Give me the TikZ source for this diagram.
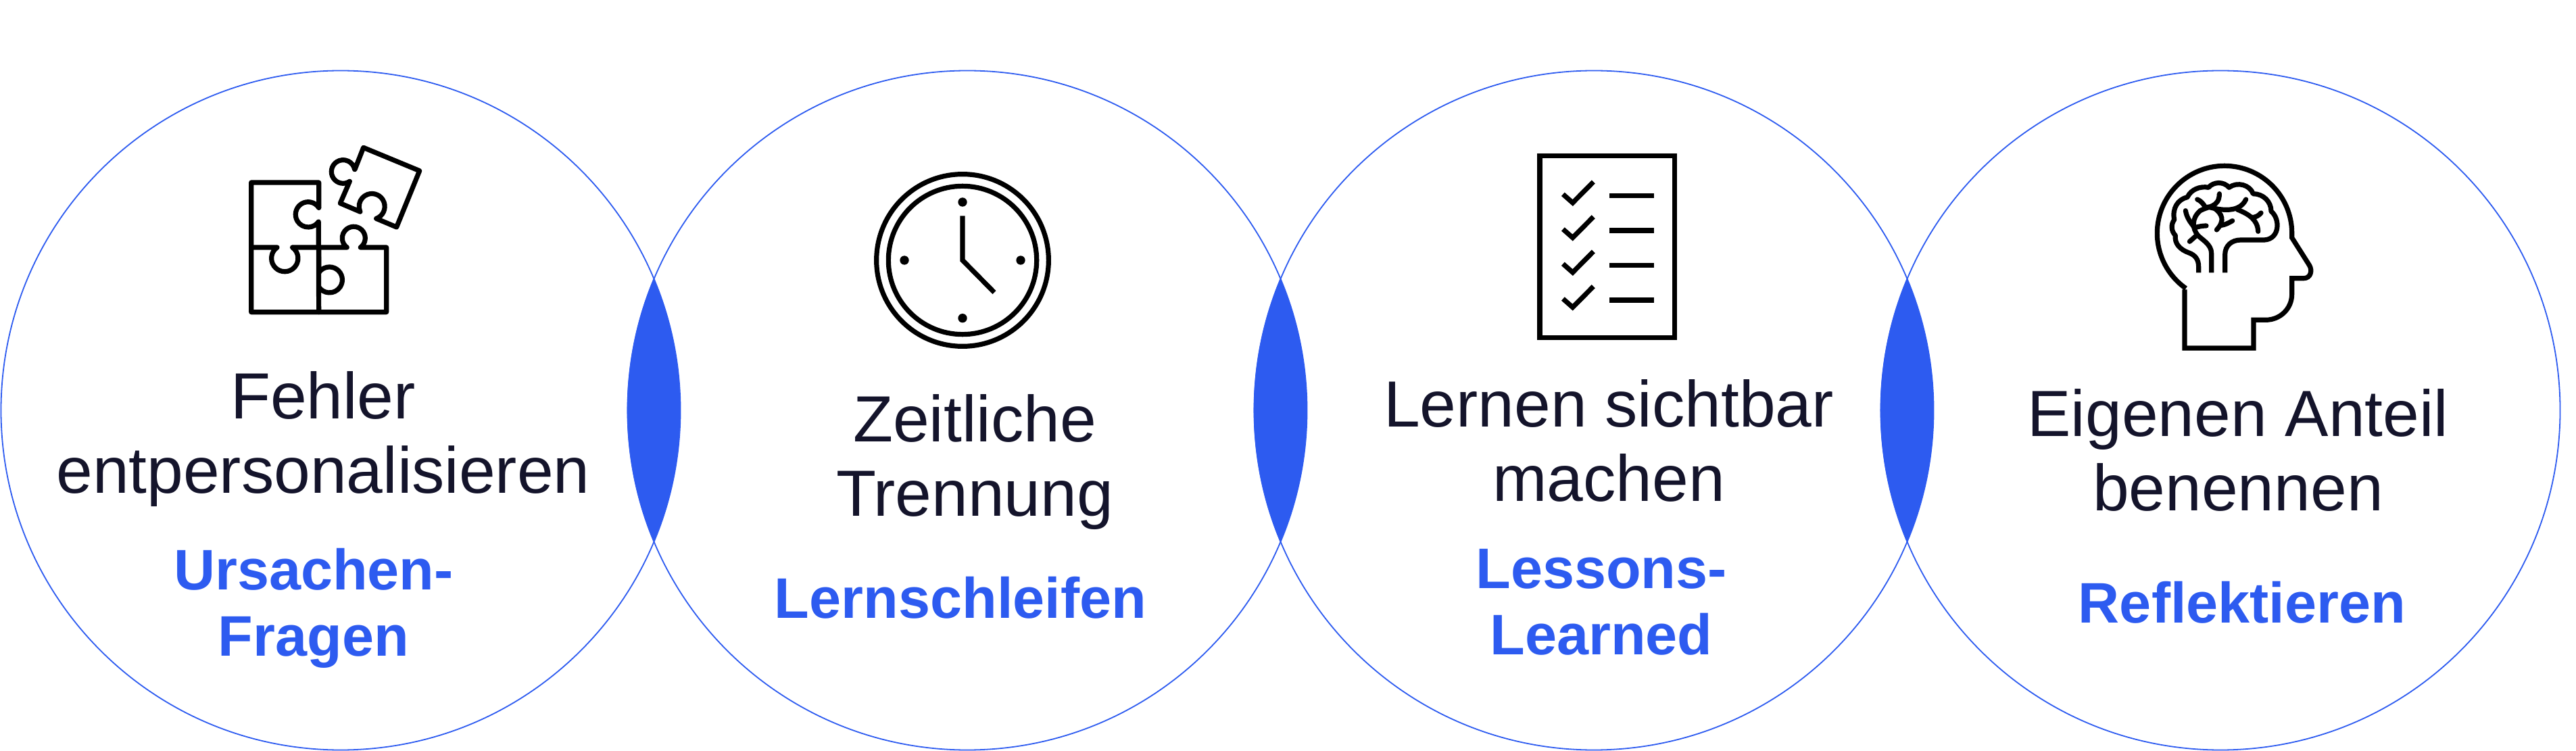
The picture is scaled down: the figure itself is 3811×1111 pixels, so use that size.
\documentclass[tikz,border=0pt]{standalone}
\usepackage{fontspec}
\setmainfont{Liberation Sans}
\definecolor{bluemain}{HTML}{2D5BF0}
\definecolor{inkdark}{HTML}{14142B}
\newcommand{\tstrut}{\rule[-12pt]{0pt}{36pt}}
\newcommand{\bstrut}{\rule[-11pt]{0pt}{34pt}}
\tikzset{
  x=0.5pt,y=-0.5pt,
  ring/.style={draw=bluemain,line width=0.9pt},
  lens/.style={fill=bluemain,draw=none},
  ttl/.style={text=inkdark,font=\fontsize{48.3}{55}\selectfont,align=center,anchor=center,inner sep=0pt},
  sub/.style={text=bluemain,font=\fontsize{42.3}{49}\selectfont\bfseries,align=center,anchor=center,inner sep=0pt},
  ic/.style={line cap=round,line join=round,line width=3.6pt},
  icb/.style={line cap=butt,line join=miter,line width=3.6pt},
}
\newcommand{\lensat}[1]{%
  \fill[lens] (#1-0.5,412) arc[start angle=-22.8,end angle=22.8,radius=503]
     arc[start angle=157.2,end angle=202.8,radius=503] -- cycle;}
\begin{document}
\begin{tikzpicture}
\useasboundingbox (0,0) rectangle (3811,1111);
\foreach \c in {504,1431,2358,3285}{\draw[ring] (\c,607) circle[radius=502.5];}
\foreach \m in {967.5,1894.5,2821.5}{\lensat{\m}}
% texts
\node[ttl] (t1) at (478,652) {\tstrut Fehler\\\tstrut entpersonalisieren};
\node[sub] (s1) at (464,902) {\bstrut Ursachen-\\\bstrut Fragen};
\node[ttl] (t2) at (1442,686) {\tstrut Zeitliche\\\tstrut Trennung};
\node[sub] (s2) at (1421,895) {\bstrut Lernschleifen};
\node[ttl] (t3) at (2380,664) {\tstrut Lernen sichtbar\\\tstrut machen};
\node[sub] (s3) at (2369,901) {\bstrut Lessons-\\\bstrut Learned};
\node[ttl] (t4) at (3311,678) {\tstrut Eigenen Anteil\\\tstrut benennen};
\node[sub] (s4) at (3317,902) {\bstrut Reflektieren};
% puzzle
\begin{scope}[shift={(320,180)},x=0.16667pt,y=-0.16667pt]
\draw[ic] (455,382) arc[start angle=-32.5,end angle=-325,radius=56] -- (455,845);
\draw[ic] (455,382) -- (455,270) -- (155,270) -- (155,845) -- (755,845) -- (755,558) -- (640,558)
  arc[start angle=53.8,end angle=-233.8,radius=51] -- (340,558);
\draw[ic] (155,558) -- (270,558) arc[start angle=-125,end angle=-415,radius=59];
\draw[ic] (455,558) -- (455,670) arc[start angle=-146,end angle=146,radius=57];
\draw[ic] (615,212) -- (653,115) -- (902,218) -- (800,468) -- (710,430)
  arc[start angle=70,end angle=-204,radius=57] -- (550,362) -- (592,265)
  arc[start angle=56,end angle=349,radius=52];
\end{scope}
% clock
\begin{scope}[shift={(1270,230)},x=0.16667pt,y=-0.16667pt]
\draw[icb] (462,465) circle[radius=382];
\draw[icb] (462,465) circle[radius=329];
\foreach \p in {(462,207),(462,722),(204,465),(720,465)}{\fill \p circle[radius=20];}
\draw[icb] (462,268) -- (462,465) -- (603,608);
\end{scope}
% list
\begin{scope}[shift={(2240,210)},x=0.16667pt,y=-0.16667pt]
\draw[icb] (114,62) rectangle (712,868);
\foreach \d in {0,155,309,464}{
  \draw[icb] (217,{232+\d}) -- (260,{270+\d}) -- (352,{177+\d});
  \draw[icb] (424,{238+\d}) -- (620,{238+\d});
}
\end{scope}
% head
\begin{scope}[shift={(3160,220)},x=0.16667pt,y=-0.16667pt]
\draw[icb] (216,625) -- (216,885) -- (522,885) -- (522,760) -- (575,760)
  .. controls (640,760) and (692,710) .. (692,645) -- (692,575) -- (745,575)
  .. controls (775,575) and (785,540) .. (768,515) -- (692,395) -- (692,375)
  arc[start angle=0,end angle=-235,radius=299];
\draw[icb,line join=round] (278,550) -- (278,525)
  .. controls (278,490) and (262,472) .. (235,462)
  .. controls (195,448) and (170,420) .. (175,385)
  .. controls (155,365) and (155,335) .. (170,315)
  .. controls (160,265) and (185,225) .. (228,215)
  .. controls (245,180) and (285,165) .. (322,172)
  .. controls (345,145) and (390,145) .. (413,172)
  .. controls (450,145) and (505,160) .. (520,200)
  .. controls (565,200) and (600,235) .. (600,278)
  .. controls (640,310) and (640,400) .. (570,405)
  -- (465,405) .. controls (425,405) and (395,430) .. (395,470) -- (395,550);
\draw[icb] (335,550) -- (335,465) .. controls (335,425) and (295,405) .. (275,385)
  .. controls (250,355) and (245,310) .. (285,275)
  .. controls (320,255) and (370,260) .. (370,200);
\draw[ic] (370,200) -- (370,205);
\draw[ic] (272,225) .. controls (285,230) and (295,240) .. (305,255);
\draw[ic] (220,275) .. controls (225,305) and (240,325) .. (258,348);
\draw[ic] (238,412) -- (272,382);
\draw[ic] (262,350) .. controls (280,345) and (295,342) .. (312,342);
\draw[ic] (320,258) .. controls (380,275) and (460,285) .. (488,225);
\draw[ic] (345,262) .. controls (385,290) and (395,320) .. (358,360);
\draw[ic] (378,340) .. controls (395,338) and (410,330) .. (428,320);
\draw[ic] (450,270) .. controls (500,290) and (540,315) .. (542,367);
\draw[ic] (515,305) .. controls (530,305) and (545,297) .. (555,285);
\end{scope}
\end{tikzpicture}
\end{document}
